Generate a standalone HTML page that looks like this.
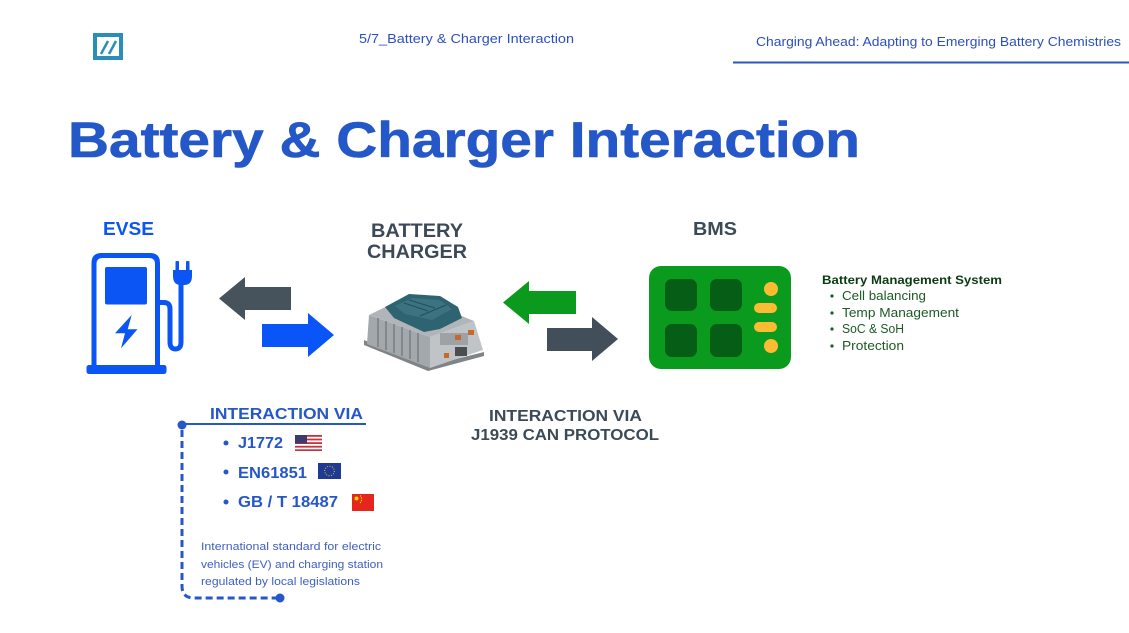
<!DOCTYPE html>
<html>
<head>
<meta charset="utf-8">
<style>
  html,body{margin:0;padding:0;background:#fff;}
  body{width:1129px;height:633px;overflow:hidden;}
  svg{display:block;}
  text{font-family:"Liberation Sans", Arial, sans-serif;}
</style>
</head>
<body>
<svg width="1129" height="633" viewBox="0 0 1129 633" xmlns="http://www.w3.org/2000/svg">
  <rect width="1129" height="633" fill="#ffffff"/>

  <!-- Logo -->
  <rect x="95" y="35" width="26" height="23" fill="none" stroke="#2a8fb8" stroke-width="4"/>
  <line x1="101" y1="54" x2="108" y2="41" stroke="#2a8fb8" stroke-width="2.5"/>
  <line x1="109" y1="54" x2="116" y2="41" stroke="#2a8fb8" stroke-width="2.5"/>

  <!-- Header texts -->
  <text x="359" y="43" font-size="13" fill="#2c4fbe" textLength="215" lengthAdjust="spacingAndGlyphs">5/7_Battery &amp; Charger Interaction</text>
  <text x="756" y="46" font-size="13" fill="#2c4fbe" textLength="365" lengthAdjust="spacingAndGlyphs">Charging Ahead: Adapting to Emerging Battery Chemistries</text>
  <rect x="733" y="61.5" width="396" height="2" fill="#2c55c4"/>

  <!-- Title -->
  <text x="68" y="157" font-size="50" font-weight="bold" fill="#2457c8" textLength="792" lengthAdjust="spacingAndGlyphs" stroke="#2457c8" stroke-width="0.6">Battery &amp; Charger Interaction</text>

  <!-- Section labels -->
  <text x="103" y="235" font-size="18.5" font-weight="bold" fill="#0b55f5" textLength="51" lengthAdjust="spacingAndGlyphs">EVSE</text>
  <text x="371" y="237" font-size="19" font-weight="bold" fill="#3c4957" textLength="92" lengthAdjust="spacingAndGlyphs">BATTERY</text>
  <text x="367" y="258" font-size="19" font-weight="bold" fill="#3c4957" textLength="100" lengthAdjust="spacingAndGlyphs">CHARGER</text>
  <text x="693" y="235" font-size="18.5" font-weight="bold" fill="#3c4957" textLength="44" lengthAdjust="spacingAndGlyphs">BMS</text>

  <!-- EVSE icon -->
  <g fill="#0b55f5" stroke="none">
    <path d="M91.5,366 V263 Q91.5,253 101.5,253 H150 Q160,253 160,263 V366 H155 V264 Q155,258 149,258 H102.5 Q96.5,258 96.5,264 V366 Z"/>
    <rect x="86.5" y="365" width="80" height="9" rx="2.5"/>
    <rect x="105" y="267" width="42" height="37.5" rx="2"/>
    <path d="M131.7,315 L115,333.3 L125,333.3 L121,348.3 L137.5,329.3 L127.7,329.3 Z"/>
    <!-- plug -->
    <path d="M173,270 H192 V276 Q192,285 184,285 H181 Q173,285 173,276 Z"/>
    <rect x="175.5" y="261" width="3.5" height="11" rx="1"/>
    <rect x="186" y="261" width="3.5" height="11" rx="1"/>
  </g>
  <path d="M160,302.5 H164 Q170,302.5 170,309 V342 Q170,349 175.5,349 Q181,349 181,342 V283" fill="none" stroke="#0b55f5" stroke-width="5"/>

  <!-- Arrows EVSE <-> charger -->
  <path d="M219,298.5 L245,277 L245,287 L291,287 L291,310 L245,310 L245,320 Z" fill="#46525c"/>
  <path d="M262,324 H308 V313 L334,335 L308,357 V347 H262 Z" fill="#0a55f7"/>

  <!-- Charger image approximation -->
  <g>
    <!-- base flange -->
    <path d="M364,340 L428,366 L484,352 L484,356 L428,371 L364,345 Z" fill="#7f8488"/>
    <!-- left face -->
    <path d="M369,315 L430,337 L430,368 L367,344 Z" fill="#a3a8ac"/>
    <!-- right face -->
    <path d="M430,337 L474,321 L483,350 L430,368 Z" fill="#c0c4c7"/>
    <!-- top face -->
    <path d="M369,315 L410,295 L474,321 L430,337 Z" fill="#b1b5b9"/>
    <!-- fins -->
    <g stroke="#7b8084" stroke-width="1.6">
      <line x1="378" y1="318" x2="378" y2="347"/>
      <line x1="386" y1="321" x2="386" y2="350"/>
      <line x1="394" y1="324" x2="394" y2="353"/>
      <line x1="402" y1="327" x2="402" y2="356"/>
      <line x1="410" y1="330" x2="410" y2="359"/>
      <line x1="418" y1="333" x2="418" y2="362"/>
    </g>
    <!-- teal top cover -->
    <path d="M385,307 L409,294 L440,296 L458,307 L462,318 L440,329 L424,332 L394,318 Z" fill="#2e6371"/>
    <path d="M395,306 L412,298 L440,300 L452,309 L432,320 L405,314 Z" fill="#3b7380"/>
    <g stroke="#244f5b" stroke-width="1">
      <line x1="404" y1="303" x2="428" y2="311"/>
      <line x1="409" y1="300" x2="435" y2="308"/>
      <line x1="420" y1="316" x2="446" y2="305"/>
    </g>
    <!-- right-face details -->
    <rect x="440" y="333" width="28" height="12" fill="#9da2a6"/>
    <rect x="455" y="335" width="6" height="5" fill="#c8682a"/>
    <rect x="468" y="330" width="6" height="5" fill="#c8682a"/>
    <rect x="444" y="353" width="5" height="5" fill="#c8682a"/>
    <rect x="455" y="347" width="12" height="9" fill="#4a4e51"/>
  </g>

  <!-- Arrows charger <-> BMS -->
  <path d="M503,302.5 L529,281 L529,291 L576,291 L576,314 L529,314 L529,324 Z" fill="#0b9a1e"/>
  <path d="M547,328 H592 V317 L618,339 L592,361 V351 H547 Z" fill="#424f5b"/>

  <!-- BMS board -->
  <rect x="649" y="266" width="142" height="103" rx="12" fill="#0a9a1e"/>
  <rect x="665" y="279" width="32" height="32" rx="7" fill="#065d15"/>
  <rect x="710" y="279" width="32" height="32" rx="7" fill="#065d15"/>
  <rect x="665" y="324" width="32" height="33" rx="7" fill="#065d15"/>
  <rect x="710" y="324" width="32" height="33" rx="7" fill="#065d15"/>
  <circle cx="771" cy="289" r="7" fill="#fbbb33"/>
  <rect x="754" y="303" width="23" height="10" rx="5" fill="#fbbb33"/>
  <rect x="754" y="322" width="23" height="10" rx="5" fill="#fbbb33"/>
  <circle cx="771" cy="346" r="7" fill="#fbbb33"/>

  <!-- BMS text -->
  <text x="822" y="284" font-size="12" font-weight="bold" fill="#0b3b12" textLength="180" lengthAdjust="spacingAndGlyphs">Battery Management System</text>
  <g fill="#1d5a25" font-size="12.5">
    <circle cx="832" cy="296" r="1.6"/>
    <text x="842" y="300" textLength="84" lengthAdjust="spacingAndGlyphs">Cell balancing</text>
    <circle cx="832" cy="313" r="1.6"/>
    <text x="842" y="317" textLength="117" lengthAdjust="spacingAndGlyphs">Temp Management</text>
    <circle cx="832" cy="329" r="1.6"/>
    <text x="842" y="333" font-size="13" textLength="62" lengthAdjust="spacingAndGlyphs">SoC &amp; SoH</text>
    <circle cx="832" cy="346" r="1.6"/>
    <text x="842" y="350" textLength="62" lengthAdjust="spacingAndGlyphs">Protection</text>
  </g>

  <!-- Left interaction block -->
  <text x="210" y="419" font-size="16" font-weight="bold" fill="#2557c9" textLength="153" lengthAdjust="spacingAndGlyphs">INTERACTION VIA</text>
  <rect x="182" y="423" width="184" height="2" fill="#2557c9"/>
  <circle cx="182" cy="425" r="4.5" fill="#2557c9"/>
  <path d="M182,430 V586 Q182,598 194,598 H278" fill="none" stroke="#2557c9" stroke-width="3" stroke-dasharray="7,4"/>
  <circle cx="280" cy="598" r="4.5" fill="#2557c9"/>

  <g fill="#2557c9" font-weight="bold" font-size="16">
    <circle cx="226" cy="443" r="2.5"/>
    <text x="238" y="448" textLength="45" lengthAdjust="spacingAndGlyphs">J1772</text>
    <circle cx="226" cy="472" r="2.5"/>
    <text x="238" y="478" textLength="69" lengthAdjust="spacingAndGlyphs">EN61851</text>
    <circle cx="226" cy="502" r="2.5"/>
    <text x="238" y="507" textLength="100" lengthAdjust="spacingAndGlyphs">GB / T 18487</text>
  </g>

  <!-- US flag -->
  <g>
    <rect x="295" y="435" width="27" height="16" fill="#ffffff"/>
    <rect x="295" y="435" width="27" height="1.8" fill="#c8313e"/>
    <rect x="295" y="438.6" width="27" height="1.8" fill="#c8313e"/>
    <rect x="295" y="442.2" width="27" height="1.8" fill="#c8313e"/>
    <rect x="295" y="445.8" width="27" height="1.8" fill="#c8313e"/>
    <rect x="295" y="449.3" width="27" height="1.7" fill="#c8313e"/>
    <rect x="295" y="435" width="12" height="8.5" fill="#3c3b6e"/>
  </g>
  <!-- EU flag -->
  <g>
    <rect x="318" y="463" width="23" height="16" fill="#1f3a93"/>
    <circle cx="329.5" cy="471" r="4.8" fill="none" stroke="#e9c53a" stroke-width="1" stroke-dasharray="1,1.5"/>
  </g>
  <!-- China flag -->
  <g>
    <rect x="352" y="494" width="22" height="17" fill="#e5261d"/>
    <circle cx="356.5" cy="498.5" r="2" fill="#f5d800"/>
    <circle cx="360.5" cy="496" r="0.7" fill="#f5d800"/>
    <circle cx="361.5" cy="498" r="0.7" fill="#f5d800"/>
    <circle cx="361.5" cy="500.5" r="0.7" fill="#f5d800"/>
    <circle cx="360.5" cy="502.5" r="0.7" fill="#f5d800"/>
  </g>

  <g fill="#3f5fc0" font-size="11">
    <text x="201" y="550" textLength="180" lengthAdjust="spacingAndGlyphs">International standard for electric</text>
    <text x="201" y="568" textLength="182" lengthAdjust="spacingAndGlyphs">vehicles (EV) and charging station</text>
    <text x="201" y="585" textLength="159" lengthAdjust="spacingAndGlyphs">regulated by local legislations</text>
  </g>

  <!-- Middle interaction label -->
  <text x="489" y="421" font-size="16" font-weight="bold" fill="#3c4957" textLength="153" lengthAdjust="spacingAndGlyphs">INTERACTION VIA</text>
  <text x="471" y="440" font-size="16" font-weight="bold" fill="#3c4957" textLength="188" lengthAdjust="spacingAndGlyphs">J1939 CAN PROTOCOL</text>
</svg>
</body>
</html>
